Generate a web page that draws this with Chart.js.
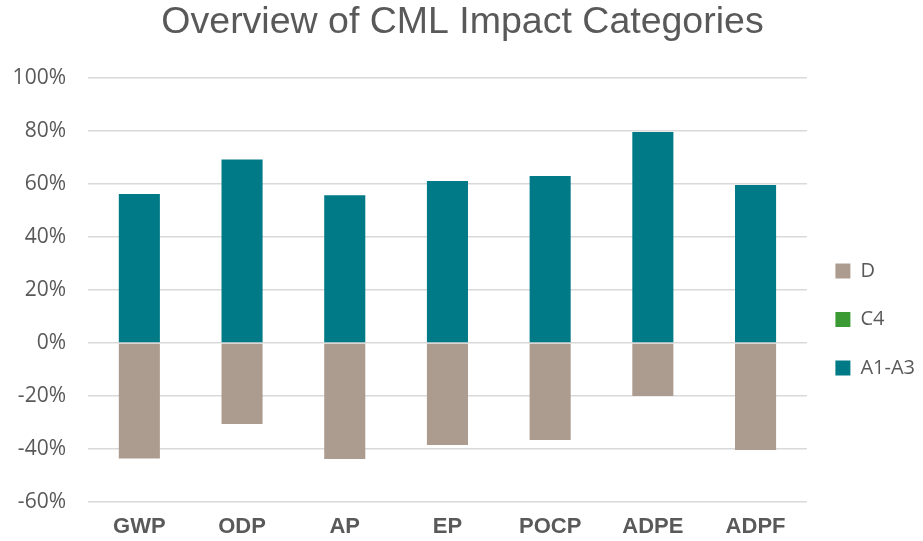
<!DOCTYPE html>
<html>
<head>
<meta charset="utf-8">
<script src="https://cdn.jsdelivr.net/npm/chart.js@4"></script>
<style>
  html, body { margin: 0; padding: 0; background: #fff; }
  #wrap { width: 923px; height: 541px; }
</style>
</head>
<body>
<div id="wrap"><canvas id="chart" width="923" height="541"></canvas></div>
<script>
const categories = ['GWP', 'ODP', 'AP', 'EP', 'POCP', 'ADPE', 'ADPF'];
const dValues = [-43.6, -30.6, -43.8, -38.5, -36.6, -20.0, -40.4];
const c4Values = [0, 0, 0, 0, 0, 0, 0];
const a1a3Values = [56.2, 69.2, 55.8, 61.1, 63.0, 79.6, 59.6];

const ctx = document.getElementById('chart').getContext('2d');
const chart = new Chart(ctx, {
  type: 'bar',
  data: {
    labels: categories,
    datasets: [
      { label: 'D', data: dValues, backgroundColor: '#ac9c8f', order: 1 },
      { label: 'C4', data: c4Values, backgroundColor: '#3c9a35', order: 2 },
      { label: 'A1-A3', data: a1a3Values, backgroundColor: '#007a87', order: 3 }
    ]
  },
  options: {
    responsive: false,
    animation: false,
    layout: { padding: { top: 0, right: -2, bottom: 0, left: 0 } },
    datasets: {
      bar: { categoryPercentage: 1.0, barPercentage: 0.4 }
    },
    plugins: {
      title: {
        display: true,
        text: 'Overview of CML Impact Categories',
        color: '#595959',
        font: { family: 'Liberation Sans, Arial, sans-serif', size: 37.5, weight: 'normal' },
        padding: { top: 0, bottom: 33 }
      },
      legend: {
        position: 'right',
        // blank title only pushes the legend items down a little
        title: { display: true, text: ' ', font: { size: 10 }, padding: 43 },
        labels: {
          color: '#595959',
          font: { family: 'Open Sans, Liberation Sans, sans-serif', size: 20 },
          boxWidth: 15,
          boxHeight: 15,
          padding: 28.5
        }
      },
      tooltip: { enabled: false }
    },
    scales: {
      x: {
        stacked: true,
        grid: { display: false, drawTicks: false },
        border: { display: false },
        afterFit: axis => { axis.height = 39; },
        ticks: {
          color: '#595959',
          padding: 12,
          font: { family: 'Liberation Sans, Arial, sans-serif', size: 22, weight: 'bold' }
        }
      },
      y: {
        stacked: true,
        min: -60,
        max: 100,
        grid: { color: '#d9d9d9', lineWidth: 1.5, drawTicks: false },
        border: { display: false },
        afterFit: axis => { axis.width = 88; },
        ticks: {
          stepSize: 20,
          color: '#595959',
          padding: 22,
          font: { family: 'Open Sans, Liberation Sans, sans-serif', size: 21 },
          callback: v => v + '%'
        }
      }
    }
  }
});
</script>
</body>
</html>
